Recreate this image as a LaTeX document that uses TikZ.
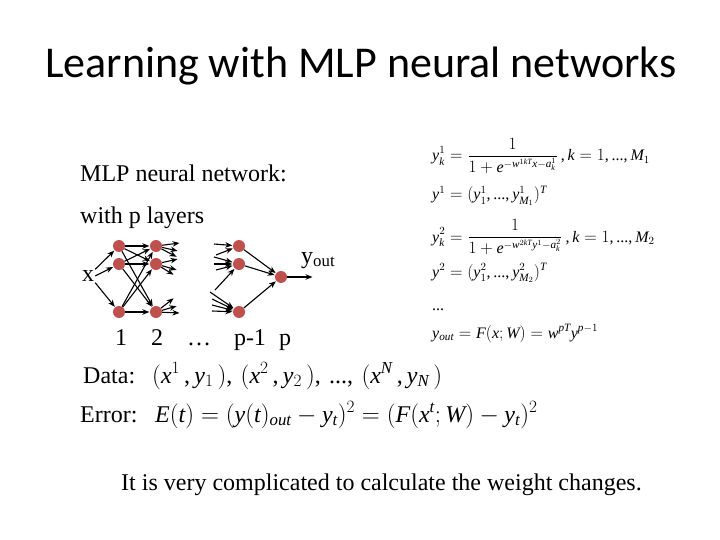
\documentclass[tikz,border=0pt]{standalone}
\usepackage{fontspec}
\setmainfont{Liberation Serif}
\newfontfamily\titlefont{Carlito}
\usepackage{tikz}
\usetikzlibrary{arrows.meta, positioning, calc}

% Times-like letters and digits in math
\DeclareSymbolFont{tmit}{TU}{\rmdefault}{m}{it}
\DeclareSymbolFont{tmrm}{TU}{\rmdefault}{m}{n}
\newcommand\mathletter[1]{\Umathcode`#1=7 \symtmit `#1\relax}
\newcommand\mathdigit[1]{\Umathcode`#1=7 \symtmrm `#1\relax}
\def\doletters#1{\ifx#1\relax\else\mathletter#1\expandafter\doletters\fi}
\def\dodigits#1{\ifx#1\relax\else\mathdigit#1\expandafter\dodigits\fi}
\doletters abcdefghijklmnopqrstuvwxyzABCDEFGHIJKLMNOPQRSTUVWXYZ\relax
\dodigits 0123456789\relax
\Umathcode`(=4 \symtmrm `(\relax
\Umathcode`)=5 \symtmrm `)\relax
\Umathcode`,=6 \symtmrm `,\relax
\Umathcode`;=6 \symtmrm `;\relax
\Umathcode`.=0 \symtmrm `.\relax

\definecolor{nodered}{RGB}{192,80,77}

\tikzset{
  neuron/.style={circle, fill=nodered, minimum size=12pt, inner sep=0pt},
  link/.style={-{Stealth[length=7pt,width=5.5pt]}, line width=1.1pt, shorten >=0.5pt},
  txt/.style={anchor=base west, inner sep=0pt, font=\fontsize{24}{28}\selectfont},
  eqn/.style={anchor=base west, inner sep=0pt, font=\fontsize{16}{19}\selectfont}
}

\begin{document}
\begin{tikzpicture}[x=1pt, y=-1pt]
		% Page
		\useasboundingbox (0,0) rectangle (720,540);
		\fill[white] (0,0) rectangle (720,540);
		
		% Title
		\node[anchor=base west, inner sep=0pt, font=\titlefont\fontsize{44}{50}\selectfont] (title) at (45,78) {Learning with MLP neural networks};
		
		% Left text
		\node[txt] (mlp) at (80,182) {MLP neural network:};
		\node[txt] (layers) at (80,224) {with p layers};
		
		% Neurons
		\node[neuron] (L1a) at (119,246) {};
		\node[neuron] (L1b) at (119,264) {};
		\node[neuron] (L1c) at (119,312) {};
		\node[neuron] (L2a) at (156,246) {};
		\node[neuron] (L2b) at (156,264) {};
		\node[neuron] (L2c) at (156,312) {};
		\node[neuron] (Pa) at (239,246) {};
		\node[neuron] (Pb) at (239,264) {};
		\node[neuron] (Pc) at (239,312) {};
		\node[neuron] (out) at (281,277) {};
		
		% Input
		\node[anchor=center, inner sep=1pt, font=\fontsize{24}{28}\selectfont] (x) at (88,276) {x};
		\draw[link] (x.north east) -- (L1a);
		\draw[link] (x.east) -- (L1b);
		\draw[link] (x.south east) -- (L1c);
		
		% Layer 1 -> layer 2
		\foreach \i in {a,b,c}
		\foreach \j in {a,b,c}
		\draw[link] (L1\i) -- (L2\j);
		
		% Arrows leaving layer 2
		\foreach \n/\dx/\dy [count=\k] in {a/24/-3, a/22/5, a/21/11, b/22/-5, b/21/6, b/18/11, c/18/-14, c/21/-6, c/24/1}
		\draw[link] (L2\n) -- ++(\dx,\dy) coordinate (o\k);
		
		% Arrows entering layer p-1
		\foreach \n/\dx/\dy [count=\k] in {a/-25/-2, a/-23/9, b/-25/-7, b/-25/0, b/-23/6, b/-24/26, c/-29/-20, c/-27/-13, c/-27/-7, c/-27/-1}
		{
			\path (P\n) ++(\dx,\dy) coordinate (i\k);
			\draw[link] (i\k) -- (P\n);
		}
		
		% Layer p-1 -> output
		\foreach \i in {a,b,c}
		\draw[link] (P\i) -- (out);
		\coordinate (yend) at (313,277);
		\draw[link] (out) -- (yend);
		\node[anchor=base west, inner sep=0pt, font=\fontsize{24}{28}\selectfont] (yout) at (301,263) {y\textsubscript{out}};
		
		% Layer numbers
		\node[txt, anchor=base] (n1) at (121,345) {1};
		\node[txt, anchor=base] (n2) at (157,345) {2};
		\node[txt, anchor=base] (ndots) at (199,345) {\dots};
		\node[txt, anchor=base] (npm) at (250,345) {p-1};
		\node[txt, anchor=base] (np) at (285,345) {p};
		
		% Data and error
		\node[txt] (data) at (83,383) {Data:};
		\node[txt] (dataeq) at (152,383) {$(x^1\,, y_1\,),\,(x^2\,, y_2\,),\,...,\,(x^N\,, y_N\,)$};
		\node[txt] (err) at (80,422) {Error:};
		\node[txt] (erreq) at (155,422) {$E(t) = (y(t)_{out} - y_t)^2 = (F(x^t; W) - y_t)^2$};
		
		% Layer equations
		\node[eqn] (e1) at (432,161) {$\displaystyle y_k^1 = \frac{1}{1+e^{-w^{1kT}x-a_k^1}}\,, k=1,...,M_1$};
		\node[eqn] (e2) at (432,200) {$y^1 = (y_1^1,..., y_{M_1}^1)^T$};
		\node[eqn] (e3) at (432,242) {$\displaystyle y_k^2 = \frac{1}{1+e^{-w^{2kT}y^1-a_k^2}}\,, k=1,...,M_2$};
		\node[eqn] (e4) at (432,277) {$y^2 = (y_1^2,..., y_{M_2}^2)^T$};
		\node[eqn] (e5) at (432,310) {...};
		\node[eqn] (e6) at (432,338) {$y_{out} = F(x;W) = w^{pT}y^{p-1}$};
		
		% Closing remark
		\node[txt] (remark) at (121,490) {It is very complicated to calculate the weight changes.};
	\end{tikzpicture}
\end{document}
